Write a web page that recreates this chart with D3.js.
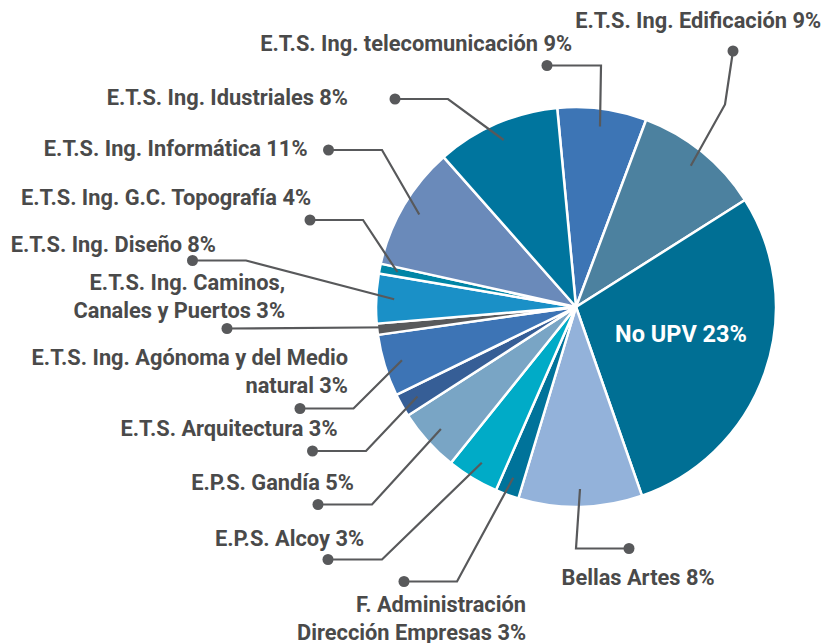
<!DOCTYPE html>
<html>
<head>
<meta charset="utf-8">
<script src="https://cdn.jsdelivr.net/npm/d3@7"></script>
<style>
  body { margin: 0; background: #fff; }
  text { font-family: Roboto, "Noto Sans", sans-serif; font-weight: 700; }
</style>
</head>
<body>
<svg id="chart"></svg>
<script>
const w = 824, h = 643;

// slices, clockwise starting just left of 12 o'clock
const schools = ['telecom', 'edificacion', 'noupv', 'bellas', 'ade', 'alcoy', 'gandia',
                 'arquitectura', 'agronoma', 'caminos', 'diseno', 'topografia', 'informatica', 'industriales'];
// slice sizes as drawn (share of the circle, %)
const shares = [7.2, 10.3, 28.6, 10.0, 1.9, 4.2, 5.1, 1.9, 5.0, 0.9, 4.0, 0.8, 10.0, 10.0];
// label texts (one entry per text line)
const labelLines = [
    ['E.T.S. Ing. telecomunicación 9%'],
    ['E.T.S. Ing. Edificación 9%'],
    ['No UPV 23%'],
    ['Bellas Artes 8%'],
    ['F. Administración', 'Dirección Empresas 3%'],
    ['E.P.S. Alcoy 3%'],
    ['E.P.S. Gandía 5%'],
    ['E.T.S. Arquitectura 3%'],
    ['E.T.S. Ing. Agónoma y del Medio', 'natural 3%'],
    ['E.T.S. Ing. Caminos,', 'Canales y Puertos 3%'],
    ['E.T.S. Ing. Diseño 8%'],
    ['E.T.S. Ing. G.C. Topografía 4%'],
    ['E.T.S. Ing. Informática 11%'],
    ['E.T.S. Ing. Idustriales 8%']
];
const colors = ['#3d75b5', '#4c819f', '#006f94', '#93b2da', '#00739a', '#00abc7', '#79a5c5',
                '#365e96', '#3d74b5', '#58595b', '#1a90c7', '#0085a6', '#6a8aba', '#00759e'];

// layout of the pie and the callouts
const cx = 576, cy = 307, radius = 200;
const startDeg = -5.4;
const lineColor = '#58595b', textColor = '#4a4a4a';
const fontSize = 21.8, insideFontSize = 23.5, lineGap = 28.5;

// label placement: dot, bend point, text anchor point
const callouts = [
    {dot: [547, 65.5], bend: [601, 65.5], tx: 572, ty: 43.5, anchor: 'end'},
    {dot: [733, 51], bend: [725, 104.5], tx: 821, ty: 20.5, anchor: 'end'},
    {inside: true, tx: 681, ty: 334, anchor: 'middle'},
    {dot: [629, 548.5], bend: [576, 548.5], tx: 638, ty: 577, anchor: 'middle'},
    {dot: [404, 581.5], bend: [457, 581.5], tx: 526, ty: 604, anchor: 'end'},
    {dot: [328, 559.5], bend: [382, 559.5], tx: 364, ty: 538, anchor: 'end'},
    {dot: [318, 504.5], bend: [372, 504.5], tx: 354, ty: 482, anchor: 'end'},
    {dot: [312.5, 451], bend: [366, 451], tx: 337.5, ty: 428, anchor: 'end'},
    {dot: [300, 408.5], bend: [353.5, 408.5], tx: 348, ty: 357, anchor: 'end'},
    {dot: [227, 328.5], bend: null, tx: 285, ty: 282, anchor: 'end'},
    {dot: [192.5, 260.5], bend: [246, 260.5], tx: 216, ty: 244, anchor: 'end'},
    {dot: [310, 220], bend: [363, 220], tx: 311, ty: 197.5, anchor: 'end'},
    {dot: [328.5, 150], bend: [382, 150], tx: 307.5, ty: 148.5, anchor: 'end'},
    {dot: [395, 99], bend: [448, 99], tx: 348, ty: 97, anchor: 'end'}
];

const svg = d3.select('#chart')
    .attr('width', w)
    .attr('height', h)
    .attr('viewBox', '0 0 ' + w + ' ' + h);

const color = d3.scaleOrdinal().domain(schools).range(colors);

const pie = d3.pie()
    .sort(null)
    .value(d => d.share)
    .startAngle(startDeg * Math.PI / 180)
    .endAngle((startDeg + 360) * Math.PI / 180);

const slices = pie(schools.map((s, i) => ({school: s, share: shares[i], i: i})));

const arc = d3.arc().innerRadius(0).outerRadius(radius);
// radius where leader lines touch the slices
const leaderArc = d3.arc().innerRadius(radius * 0.9).outerRadius(radius * 0.92);

const pieG = svg.append('g')
    .attr('transform', 'translate(' + cx + ',' + cy + ')');

pieG.selectAll('path')
    .data(slices)
    .enter()
    .append('path')
    .attr('d', arc)
    .attr('fill', d => color(d.data.school))
    .attr('stroke', 'white')
    .attr('stroke-width', 2.5)
    .attr('stroke-linejoin', 'round');

// leader lines
const leaders = svg.append('g');

slices.forEach((d, i) => {
    const c = callouts[i];
    if (c.inside) return;
    const p = leaderArc.centroid(d);
    const end = [cx + p[0], cy + p[1]];
    const pts = c.bend ? [c.dot, c.bend, end] : [c.dot, end];

    leaders.append('path')
        .attr('d', d3.line()(pts))
        .attr('fill', 'none')
        .attr('stroke', lineColor)
        .attr('stroke-width', 2.2);

    leaders.append('circle')
        .attr('cx', c.dot[0])
        .attr('cy', c.dot[1])
        .attr('r', 5.5)
        .attr('fill', lineColor);
});

// labels
const labels = svg.append('g');

labelLines.forEach((lines, i) => {
    const c = callouts[i];
    const t = labels.append('text')
        .attr('text-anchor', c.anchor)
        .attr('font-size', (c.inside ? insideFontSize : fontSize) + 'px')
        .attr('fill', c.inside ? 'white' : textColor);

    lines.forEach((line, k) => {
        t.append('tspan')
            .attr('x', c.tx)
            .attr('y', c.ty + k * lineGap)
            .attr('dy', '0.36em')
            .text(line);
    });
});
</script>
</body>
</html>
